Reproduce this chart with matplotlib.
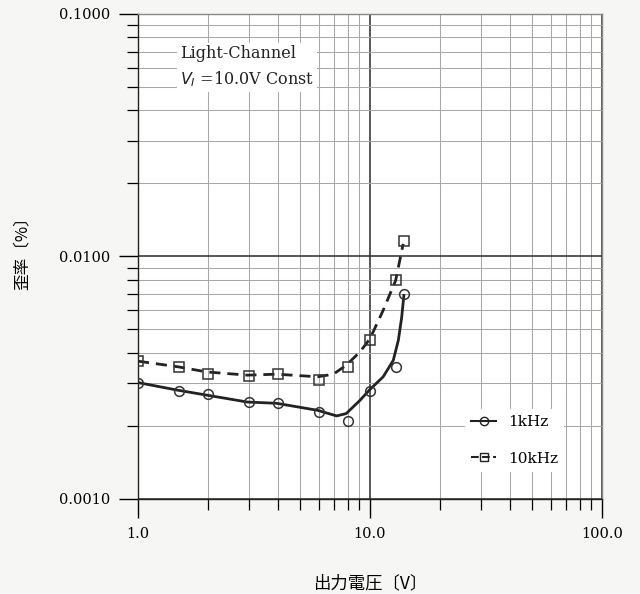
import numpy as np
import matplotlib.pyplot as plt
from matplotlib.ticker import LogLocator, FixedLocator, NullFormatter

# measured points
volts = [1.0, 1.5, 2.0, 3.0, 4.0, 6.0, 8.0, 10.0, 13.0, 14.0]
thd_1k = [0.00302, 0.00279, 0.00270, 0.00250, 0.00249, 0.00229, 0.00210, 0.00279, 0.00350, 0.00698]
thd_10k = [0.00370, 0.00351, 0.00329, 0.00322, 0.00329, 0.00309, 0.00351, 0.00451, 0.00796, 0.01156]

# hand-drawn trend curves
curve_v_1k = [1.0, 1.48, 1.98, 2.96, 3.96, 5.95, 7.18, 7.9, 9.05, 10.0, 11.4, 12.6, 13.25, 13.7, 14.0]
curve_1k = [0.00302, 0.00281, 0.00268, 0.00251, 0.00248, 0.00232, 0.00220, 0.00225, 0.00255,
            0.00283, 0.00319, 0.00373, 0.00451, 0.00562, 0.00691]
curve_v_10k = [1.0, 1.48, 1.98, 2.96, 3.96, 5.95, 6.95, 7.9, 9.05, 10.0, 11.4, 12.9, 13.9]
curve_10k = [0.00370, 0.00351, 0.00334, 0.00324, 0.00327, 0.00319, 0.00327, 0.00356, 0.00404,
             0.00458, 0.00600, 0.00796, 0.01127]

x_ticks = [1.0, 10.0, 100.0]
x_labels = ["1.0", "10.0", "100.0"]
y_ticks = [0.001, 0.01, 0.1]
y_labels = ["0.0010", "0.0100", "0.1000"]


def main():
	plt.rcParams['font.family'] = ['DejaVu Serif', 'Noto Sans CJK JP']
	fig = plt.figure(figsize=(6.4, 5.94), dpi=100)
	fig.patch.set_facecolor('#f6f6f4')
	ax = fig.add_axes([0.2156, 0.16, 0.725, 0.8165])
	ax.set_facecolor('white')

	ax.set_xscale('log')
	ax.set_yscale('log')
	ax.set_xlim(1, 100)
	ax.set_ylim(0.001, 0.1)

	ax.xaxis.set_major_locator(FixedLocator(x_ticks))
	ax.set_xticklabels(x_labels)
	ax.yaxis.set_major_locator(FixedLocator(y_ticks))
	ax.set_yticklabels(y_labels)
	ax.xaxis.set_minor_locator(LogLocator(base=10, subs=np.arange(2, 10)))
	ax.yaxis.set_minor_locator(LogLocator(base=10, subs=np.arange(2, 10)))
	ax.xaxis.set_minor_formatter(NullFormatter())
	ax.yaxis.set_minor_formatter(NullFormatter())

	ax.grid(True, which='major', color='#2a2a2a', linewidth=1.1)
	ax.grid(True, which='minor', color='#a8a8a8', linewidth=0.75)
	ax.tick_params(which='major', length=14, width=1.0, direction='out', labelsize=10.5, pad=6)
	ax.tick_params(which='minor', length=8, width=0.9, direction='out')
	for s in ax.spines.values():
		s.set_linewidth(1.0)
		s.set_color('#222222')
	ax.spines['top'].set_color('#888888')
	ax.spines['right'].set_color('#888888')

	# trend curves
	ax.plot(curve_v_1k, curve_1k, '-', color='#222222', linewidth=2.0, zorder=3)
	ax.plot(curve_v_10k, curve_10k, '--', color='#222222', linewidth=2.0, dashes=(4, 2.5), zorder=3)
	# measured markers
	ax.plot(volts, thd_1k, 'o', markersize=7, markerfacecolor='none', markeredgecolor='#333333',
			markeredgewidth=1.1, zorder=4)
	ax.plot(volts, thd_10k, 's', markersize=7, markerfacecolor='none', markeredgecolor='#333333',
			markeredgewidth=1.1, zorder=4)

	# legend handles
	h1, = ax.plot([], [], '-o', color='#222222', markerfacecolor='none', markersize=6, linewidth=1.5, label='1kHz')
	h2, = ax.plot([], [], '--s', color='#222222', markerfacecolor='none', markersize=6, linewidth=1.5, label='10kHz')
	leg = ax.legend(handles=[h1, h2], loc='lower right', bbox_to_anchor=(0.935, 0.04),
					frameon=True, fontsize=11, handlelength=1.6, labelspacing=1.5)
	leg.get_frame().set_facecolor('white')
	leg.get_frame().set_edgecolor('none')
	leg.get_frame().set_alpha(1.0)

	ax.text(0.09, 0.935, "Light-Channel\n$V_I$ =10.0V Const", transform=ax.transAxes,
			fontsize=11.5, va='top', ha='left', linespacing=1.45, color='#222222',
			bbox=dict(facecolor='white', edgecolor='none', pad=2))

	ax.set_xlabel("出力電圧〔V〕", family=['Noto Sans CJK JP', 'DejaVu Sans'], fontsize=12.5, labelpad=24)
	fig.text(22 / 640, 0.58, "歪率〔%〕", family=['Noto Sans CJK JP', 'DejaVu Sans'], fontsize=12,
			 rotation=90, ha='center', va='center')

	fig.savefig('out.png', dpi=100)


if __name__ == '__main__':
	main()
